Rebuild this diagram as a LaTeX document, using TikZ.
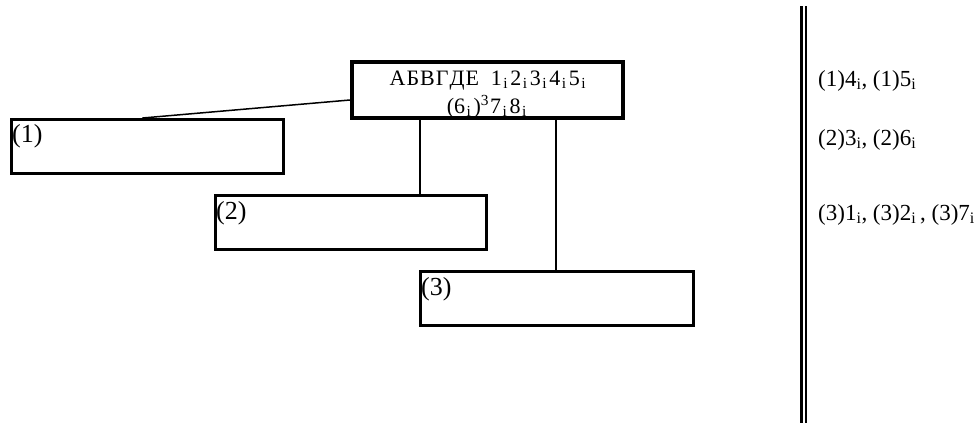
\documentclass[tikz,border=0pt]{standalone}
\usepackage{fontspec}
\setmainfont{Liberation Serif}
\newcommand{\sbi}{\textsubscript{i}}
\newcommand{\msbi}{\kern1.5pt\textsubscript{i}\kern2.2pt}
\begin{document}
\begin{tikzpicture}[x=1pt,y=-1pt,
  bigbox/.style={draw,line width=4pt,minimum width=271pt,minimum height=56pt,inner sep=0pt},
  subbox/.style={draw,line width=3pt,minimum height=54pt,inner sep=0pt},
  boxlabel/.style={anchor=north west,inner sep=0pt,font=\fontsize{26}{26}\selectfont},
  sidetext/.style={anchor=base west,inner sep=0pt,font=\fontsize{23}{23}\selectfont},
  maintext/.style={anchor=base,inner sep=0pt,font=\fontsize{22}{22}\selectfont},
  conn/.style={line width=1.5pt}]
\useasboundingbox (0,0) rectangle (979,423);
\node[bigbox] (main) at (487.5,90) {};
\node[maintext] (t1) at (489,85) {А\kern1ptБ\kern1ptВ\kern1ptГ\kern1ptД\kern1ptЕ\hspace{12pt}1\msbi2\msbi3\msbi4\msbi5\msbi};
\node[maintext] (t2) at (488,113) {(6\msbi)\textsuperscript{3}\kern1pt7\msbi8\msbi};
\node[subbox,minimum width=272pt] (b1) at (147.5,146.5) {};
\node[subbox,minimum width=271pt] (b2) at (351,222.5) {};
\node[subbox,minimum width=273pt] (b3) at (557,298.5) {};
\node[boxlabel] (l1) at (12,124) {(1)};
\node[boxlabel] (l2) at (216,201) {(2)};
\node[boxlabel] (l3) at (421,277) {(3)};
\coordinate (c2) at (420,0);
\coordinate (c3) at (556,0);
\draw[conn] ([yshift=-10pt]main.west) -- ([xshift=-5pt]b1.north);
\draw[conn] (main.south -| c2) -- (b2.north -| c2);
\draw[conn] (main.south -| c3) -- (b3.north -| c3);
\coordinate (d1) at (801.5,6);
\coordinate (d2) at (801.5,423);
\coordinate (d3) at (805.8,6);
\coordinate (d4) at (805.8,423);
\draw[line width=2.3pt] (d1) -- (d2);
\draw[line width=2.3pt] (d3) -- (d4);
\node[sidetext] (s1) at (818,86) {(1)4\sbi, (1)5\sbi};
\node[sidetext] (s2) at (818,145) {(2)3\sbi, (2)6\sbi};
\node[sidetext] (s3) at (818,220) {(3)1\sbi, (3)2\sbi\,, (3)7\sbi};
\end{tikzpicture}
\end{document}
